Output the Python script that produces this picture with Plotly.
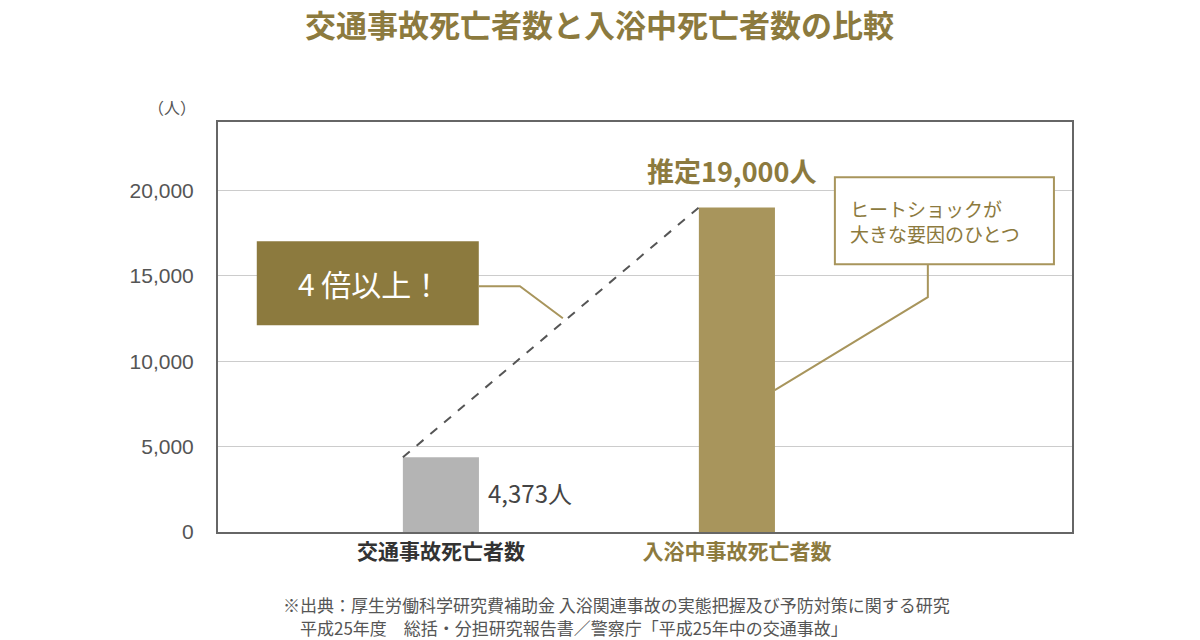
import plotly.graph_objects as go

categories = ["交通事故死亡者数", "入浴中事故死亡者数"]
values = [4373, 19000]
bar_colors = ["#b4b4b4", "#a8955c"]
value_labels = ["4,373人", "推定19,000人"]
y_ticks = [0, 5000, 10000, 15000, 20000]
footnotes = ["※出典：厚生労働科学研究費補助金 入浴関連事故の実態把握及び予防対策に関する研究",
             "平成25年度　総括・分担研究報告書／警察庁「平成25年中の交通事故」"]

GOLD = "#a8955c"
DARK_GOLD = "#8c7a3e"
FONT = "Noto Sans CJK JP"
NUMFONT = "Liberation Sans"

x = [0, 1]
bw = 0.257

fig = go.Figure()
fig.add_trace(go.Bar(x=x, y=values, width=bw, marker=dict(color=bar_colors, line=dict(width=0)),
                     hoverinfo="skip"))
# dashed line connecting bar tops (top-left corners)
fig.add_trace(go.Scatter(x=[x[0] - bw / 2, x[1] - bw / 2], y=[values[0], values[1]], mode="lines",
                         line=dict(color="#555555", width=2, dash="dash"), hoverinfo="skip"))

shapes = []
# 4倍以上 box
shapes.append(dict(type="rect", xref="x", yref="y", x0=-0.622, x1=0.128, y0=12105, y1=17018,
                   fillcolor=DARK_GOLD, line=dict(width=0), layer="above"))
shapes.append(dict(type="path", xref="x", yref="y",
                   path="M 0.128 14386 L 0.267 14386 L 0.412 12515",
                   line=dict(color=GOLD, width=2)))
# Heat shock callout
shapes.append(dict(type="rect", xref="x", yref="y", x0=1.331, x1=2.071, y0=15673, y1=20760,
                   fillcolor="white", line=dict(color=GOLD, width=2), layer="above"))
shapes.append(dict(type="path", xref="x", yref="y",
                   path="M 1.645 15673 L 1.645 13743 L 1.128 8304",
                   line=dict(color=GOLD, width=2)))

annotations = [
    dict(text="<b>交通事故死亡者数と入浴中死亡者数の比較</b>", xref="paper", yref="paper",
         x=0.447, y=1.24, xanchor="center", yanchor="middle", showarrow=False,
         font=dict(family=FONT, size=31, color=DARK_GOLD)),
    dict(text="（人）", xref="paper", yref="paper", x=-0.054, y=1.037, xanchor="center",
         yanchor="middle", showarrow=False, font=dict(family=FONT, size=16, color="#555555")),
    dict(text="4 倍以上！", xref="x", yref="y", x=-0.24, y=14560, showarrow=False,
         font=dict(family=FONT, size=30, color="white")),
    dict(text=value_labels[0], xref="x", yref="y", x=x[0] + bw / 2 + 0.025, y=2290,
         xanchor="left", showarrow=False, font=dict(family=FONT, size=24, color="#444444")),
    dict(text="<b>" + value_labels[1] + "</b>", xref="x", yref="y", x=x[1] - 0.017, y=values[1] + 900,
         xanchor="center", yanchor="bottom", showarrow=False,
         font=dict(family=FONT, size=27, color=DARK_GOLD)),
    dict(text="ヒートショックが<br>大きな要因のひとつ", xref="x", yref="y", x=1.375, y=18200,
         xanchor="left", align="left", showarrow=False,
         font=dict(family=FONT, size=19, color=DARK_GOLD)),
    dict(text=footnotes[0], xref="paper", yref="paper", x=0.074, y=-0.178, xanchor="left",
         yanchor="middle", showarrow=False, font=dict(family=FONT, size=17, color="#555555")),
    dict(text=footnotes[1], xref="paper", yref="paper", x=0.094, y=-0.234, xanchor="left",
         yanchor="middle", showarrow=False, font=dict(family=FONT, size=17, color="#555555")),
]

fig.update_layout(
    width=1200, height=640,
    margin=dict(l=218, r=128, t=122, b=108),
    paper_bgcolor="white", plot_bgcolor="white",
    showlegend=False,
    shapes=shapes, annotations=annotations,
    font=dict(family=FONT),
)
fig.update_xaxes(range=[-0.753, 2.132], tickvals=x,
                 ticktext=["<b>" + categories[0] + "</b>",
                           "<b><span style='color:" + DARK_GOLD + "'>" + categories[1] + "</span></b>"],
                 tickfont=dict(family=FONT, size=21, color="#333333"),
                 showline=True, linecolor="#666666", linewidth=2, mirror=True,
                 showgrid=False, zeroline=False, ticks="", ticklen=0)
fig.update_yaxes(range=[0, 24000], tickvals=y_ticks, tickformat=",",
                 tickfont=dict(family=NUMFONT, size=21, color="#555555"),
                 showline=True, linecolor="#666666", linewidth=2, mirror=True,
                 showgrid=True, gridcolor="#cccccc", gridwidth=1, zeroline=False,
                 ticks="outside", ticklen=18, tickcolor="rgba(0,0,0,0)")

fig.write_html("out.html")
